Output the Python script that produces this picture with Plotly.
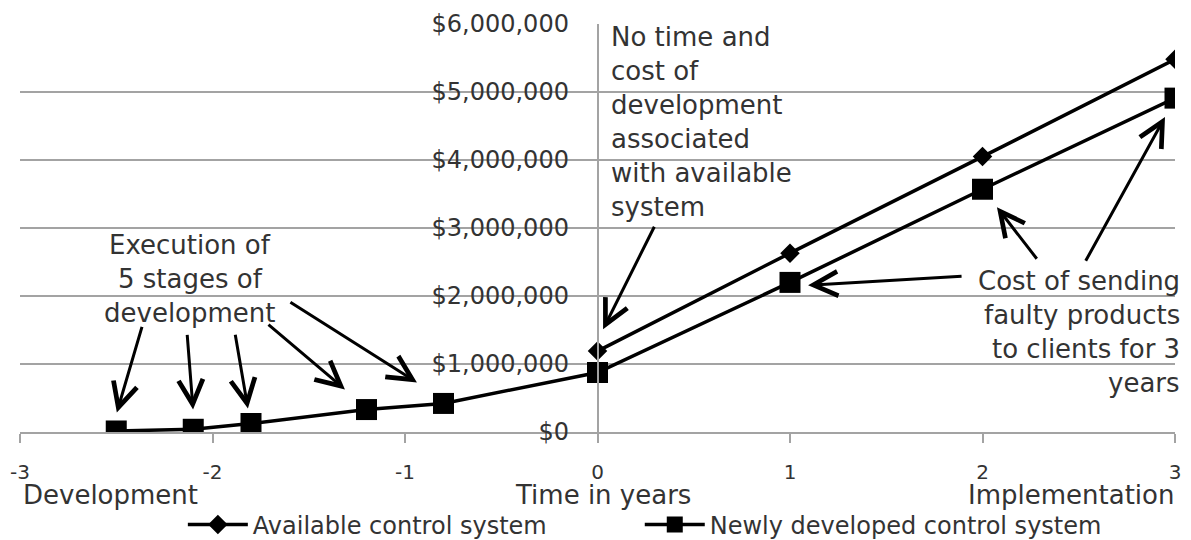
import plotly.graph_objects as go

# ---- data ----
years_new = [-2.5, -2.1, -1.8, -1.2, -0.8, 0, 1, 2, 3]
cost_new = [15000, 40000, 125000, 330000, 420000, 875000, 2200000, 3570000, 4910000]
years_avail = [0, 1, 2, 3]
cost_avail = [1190000, 2630000, 4050000, 5480000]
x_tick_vals = [-3, -2, -1, 0, 1, 2, 3]
x_tick_labels = ["-3", "-2", "-1", "0", "1", "2", "3"]
y_tick_vals = [0, 1000000, 2000000, 3000000, 4000000, 5000000, 6000000]

FONT = "DejaVu Sans"
TXT = "#333333"
GRID = "#a3a3a3"

fig = go.Figure()
fig.add_trace(go.Scatter(
    x=years_avail, y=cost_avail, name="Available control system",
    mode="lines+markers", legend="legend",
    line=dict(color="black", width=3.5),
    marker=dict(symbol="diamond", size=15, color="black"),
))
fig.add_trace(go.Scatter(
    x=years_new, y=cost_new, name="Newly developed control system",
    mode="lines+markers", legend="legend2",
    line=dict(color="black", width=3.5),
    marker=dict(symbol="square", size=21, color="black"),
))

annotations = []
PLOT_L, PLOT_W = 20, 1155


def px_to_paper_x(px):
    return (px - PLOT_L) / PLOT_W


def text_block(lines, x_px, y_first_px, align, size=26, spacing=34):
    for i, t in enumerate(lines):
        annotations.append(dict(
            text=t, xref="paper", yref="paper", x=px_to_paper_x(x_px), y=1,
            yanchor="middle", xanchor=align, showarrow=False,
            yshift=-(y_first_px - 24) - i * spacing,
            font=dict(family=FONT, size=size, color=TXT),
        ))


text_block(["No time and", "cost of", "development", "associated",
            "with available", "system"], 609, 37, "left")
text_block(["Execution of", "5 stages of", "development"], 190, 245, "center")
text_block(["Cost of sending", "faulty products", "to clients for 3", "years"],
           1182, 281, "right")

# arrows: (head_x, head_y, tail_x, tail_y) in data units
arrows = [
    (-2.497, 287000, -2.364, 1568000),
    (-2.101, 331000, -2.132, 1451000),
    (-1.816, 346000, -1.883, 1451000),
    (-1.312, 626000, -1.717, 1598000),
    (-0.938, 729000, -1.603, 1922000),
    (0.029, 1510000, 0.299, 3041000),
    (1.094, 2158000, 1.899, 2290000),
    (2.075, 3306000, 2.288, 2526000),
    (2.948, 4632000, 2.532, 2496000),
]
for hx, hy, tx, ty in arrows:
    annotations.append(dict(
        x=hx, y=hy, ax=tx, ay=ty, xref="x", yref="y", axref="x", ayref="y",
        text="", showarrow=True, arrowhead=5, arrowsize=1.6, arrowwidth=3,
        arrowcolor="black", standoff=0,
    ))

# axis-region labels
for t, x_px, anchor in [("Development", 21, "left"), ("Time in years", 603, "center"),
                        ("Implementation", 1176, "right")]:
    annotations.append(dict(
        text=t, xref="paper", yref="paper", x=px_to_paper_x(x_px), y=0,
        xanchor=anchor, yanchor="middle", yshift=-63, showarrow=False,
        font=dict(family=FONT, size=26, color=TXT),
    ))

legend_common = dict(orientation="h", xanchor="left", y=-0.228, yanchor="middle",
                     font=dict(family=FONT, size=24, color=TXT), itemwidth=60,
                     bgcolor="rgba(0,0,0,0)")

fig.update_layout(
    width=1191, height=540,
    margin=dict(l=20, r=16, t=24, b=108, autoexpand=False),
    paper_bgcolor="white", plot_bgcolor="white",
    font=dict(family=FONT, color=TXT),
    annotations=annotations,
    showlegend=True,
    legend=dict(x=0.141, **legend_common),
    legend2=dict(x=0.5366, **legend_common),
    xaxis=dict(range=[-3, 3], tickvals=x_tick_vals, ticktext=x_tick_labels,
               showgrid=False, zeroline=False, showline=True, linecolor=GRID, linewidth=1.5,
               ticks="outside", ticklen=9, tickcolor=GRID, tickwidth=1.5,
               tickfont=dict(family=FONT, size=20, color=TXT), ticklabelstandoff=12),
    yaxis=dict(range=[0, 6000000], tickvals=y_tick_vals, tickformat="$,.0f",
               anchor="free", position=0.5, showline=True, linecolor=GRID, linewidth=1.5,
               showgrid=True, gridcolor=GRID, gridwidth=1.5, zeroline=False,
               ticks="", tickfont=dict(family=FONT, size=24, color=TXT),
               ticklabelstandoff=23),
)

fig.write_html("out.html")
